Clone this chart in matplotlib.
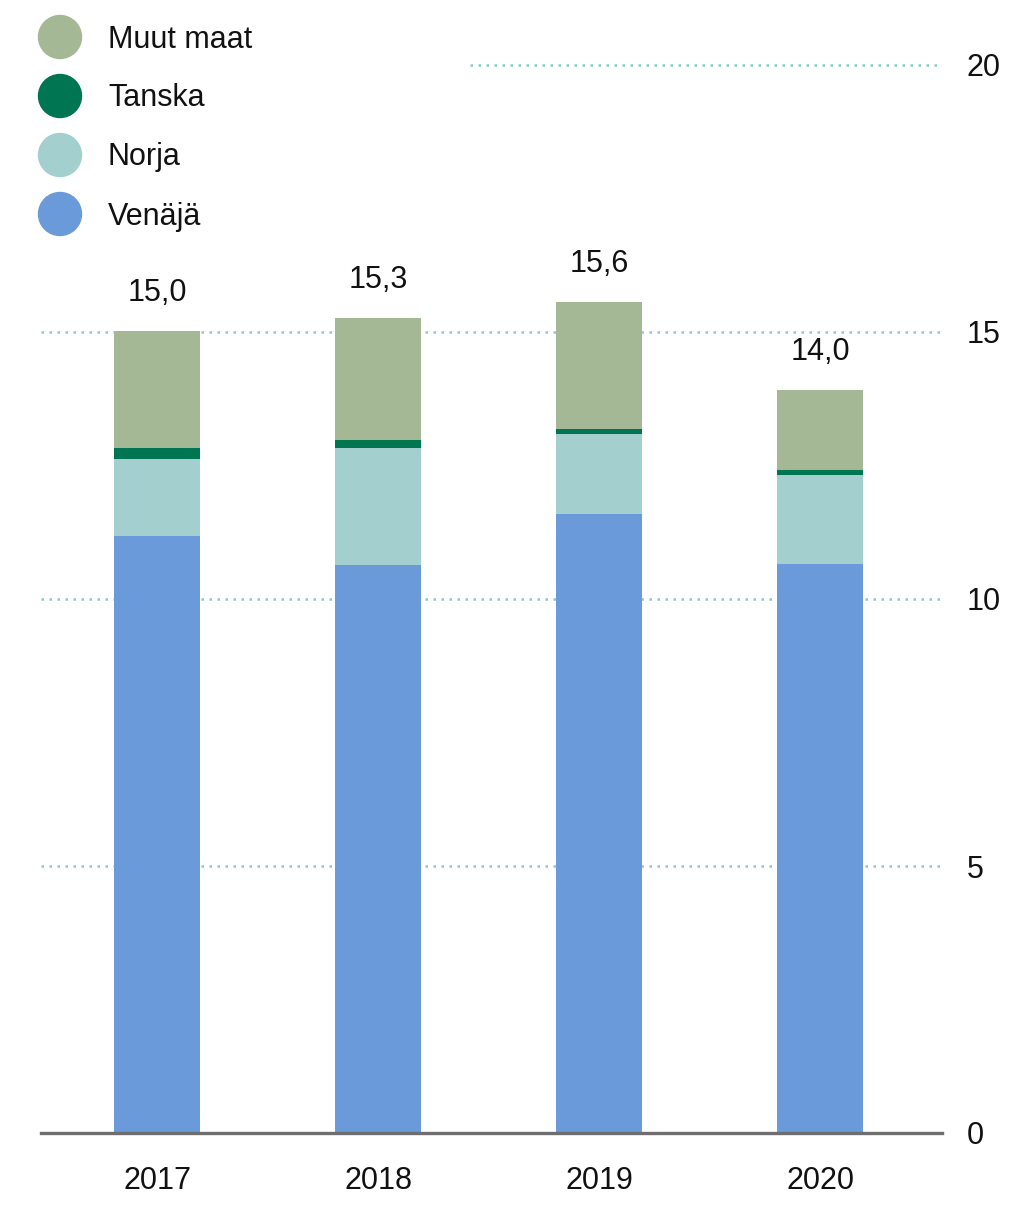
import numpy as np
import matplotlib.pyplot as plt
from matplotlib.patches import Circle

plt.rcParams['font.family'] = ['Liberation Sans', 'DejaVu Sans']

years = ['2017', '2018', '2019', '2020']
venaja = [11.18, 10.64, 11.59, 10.66]
norja = [1.44, 2.19, 1.50, 1.66]
tanska = [0.21, 0.15, 0.09, 0.10]
muut = [2.19, 2.28, 2.38, 1.49]
totals = ['15,0', '15,3', '15,6', '14,0']

series = [('Venäjä', venaja, '#6a9ad9'),
          ('Norja', norja, '#a3cfcf'),
          ('Tanska', tanska, '#007552'),
          ('Muut maat', muut, '#a5b896')]

W, H = 1009, 1211
fig = plt.figure(figsize=(W / 100, H / 100), dpi=100)
ax = fig.add_axes([41 / W, (H - 1133) / H, (942 - 41) / W, (1133 - 65) / H])

x = np.arange(len(years))
bottom = np.zeros(len(years))
for name, vals, col in series:
    ax.bar(x, vals, width=0.39, bottom=bottom, color=col, zorder=3)
    bottom = bottom + np.array(vals)

for xi, top, lab in zip(x, bottom, totals):
    ax.annotate(lab, (xi, top), xytext=(0, 27.5), textcoords='offset points',
                ha='center', va='center', fontsize=22, color='#111111')

xl = (-0.525, 3.552)
ax.set_xlim(xl)
ax.set_ylim(0, 20)

grid_col = '#8cc8c8'
for yv in [5, 10, 15]:
    ax.hlines(yv, xl[0], xl[1], colors=grid_col, linestyles=(0, (1, 2.2)), linewidth=1.8, zorder=1)
ax.hlines(20, 1.416, xl[1], colors=grid_col, linestyles=(0, (1, 2.2)), linewidth=1.8, zorder=1, clip_on=False)
ax.axhline(0, color='#6e6e6e', linewidth=2.4, zorder=4, clip_on=False)

for s in ax.spines.values():
    s.set_visible(False)
ax.yaxis.tick_right()
ax.set_yticks([0, 5, 10, 15, 20])
ax.set_yticklabels(['0', '5', '10', '15', '20'])
ax.tick_params(axis='y', length=0, pad=18, labelsize=22, labelcolor='#111111')
ax.set_xticks(x)
ax.set_xticklabels(years)
ax.tick_params(axis='x', length=0, pad=24, labelsize=22, labelcolor='#111111')

# legend drawn by hand, top entry first
for i, (name, vals, col) in enumerate(reversed(series)):
    cy = 37 + i * 59
    fig.patches.append(Circle((60, H - cy), 21.5, transform=None, color=col))
    fig.text(108 / W, 1 - (cy + 2.5) / H, name, ha='left', va='center',
             fontsize=22, color='#111111')

fig.savefig('out.png', dpi=100)
